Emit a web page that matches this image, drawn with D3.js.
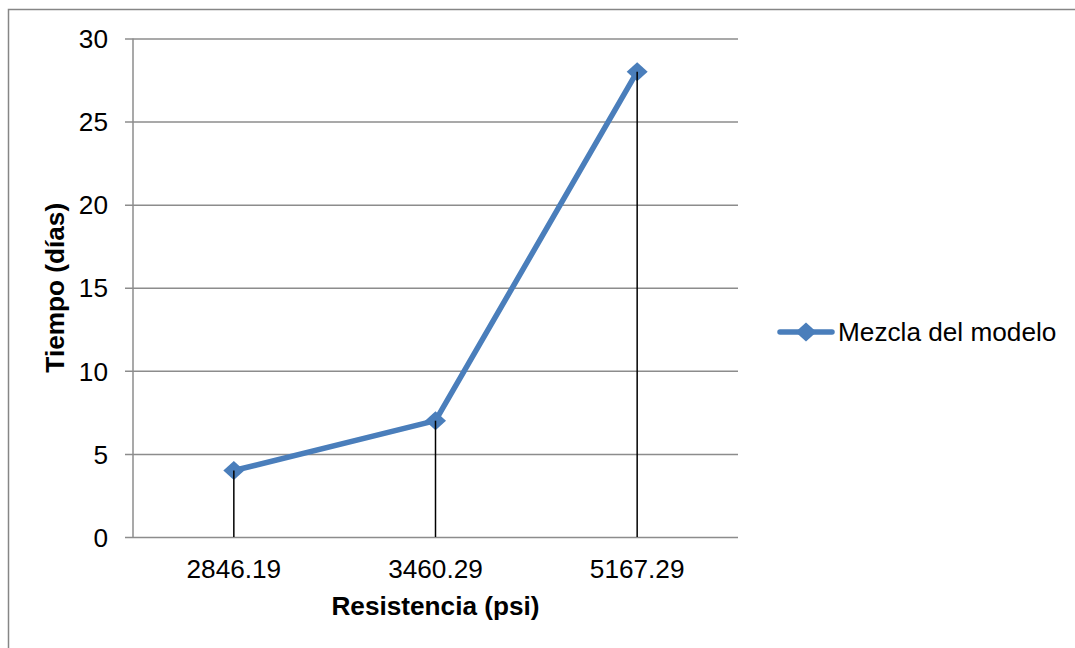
<!DOCTYPE html>
<html><head><meta charset="utf-8">
<script src="https://cdn.jsdelivr.net/npm/d3@7"></script>
<style>body{margin:0;background:#fff;}svg{display:block;font-family:Arial,"Liberation Sans",sans-serif;}</style>
</head><body>
<svg id="c" width="1075" height="648"></svg>
<script>
const categories = ["2846.19", "3460.29", "5167.29"];
const values = [4, 7, 28];
const yTicks = [0, 5, 10, 15, 20, 25, 30];
const seriesName = "Mezcla del modelo";
const xTitle = "Resistencia (psi)";
const yTitle = "Tiempo (días)";

(function () {
const svg = d3.select("#c");
const blue = "#4A7EBB";
const FF = "Arial, 'Liberation Sans', sans-serif";
const FS = 26.2;
// outer border
svg.append("rect").attr("x", 8.5).attr("y", 9.5).attr("width", 1080).attr("height", 660)
  .attr("fill", "none").attr("stroke", "#868686").attr("stroke-width", 1.5);

const pl = 133, pr = 738, pt = 38.5, pb = 537;
const x = d3.scaleBand().domain(categories).range([pl, pr]);
const y = d3.scaleLinear().domain([0, 30]).range([pb, pt]);

// gridlines with tick marks
const yAxis = d3.axisLeft(y).tickValues(yTicks).tickSize(0).tickFormat(d => d);
const gy = svg.append("g").call(yAxis);
gy.select(".domain").remove();
gy.selectAll(".tick line").attr("stroke", "#8c8c8c").attr("stroke-width", 1.5).attr("x1", pl - 8).attr("x2", pr);
gy.selectAll(".tick text").attr("x", 108).attr("text-anchor", "end").attr("font-size", FS).attr("fill", "#000")
  .attr("font-family", FF).attr("dy", "0.35em");

// y axis line
svg.append("line").attr("x1", pl).attr("x2", pl).attr("y1", pt).attr("y2", pb)
  .attr("stroke", "#8c8c8c").attr("stroke-width", 1.5);

// x labels
const xAxis = d3.axisBottom(x).tickSize(0);
const gx = svg.append("g").attr("transform", `translate(0,${pb})`).call(xAxis);
gx.select(".domain").remove();
gx.selectAll(".tick text").attr("y", 41).attr("dy", 0).attr("font-size", FS).attr("fill", "#000").attr("font-family", FF);

const cx = d => x(d) + x.bandwidth() / 2;
const data = categories.map((c, i) => ({c, v: values[i]}));

// line
svg.append("path").datum(data)
  .attr("d", d3.line().x(d => cx(d.c)).y(d => y(d.v)))
  .attr("fill", "none").attr("stroke", blue).attr("stroke-width", 5.5).attr("stroke-linejoin", "round");

// markers
const diamond = (px, py) => `M${px},${py - 9.5}L${px + 10.5},${py}L${px},${py + 9.5}L${px - 10.5},${py}Z`;
svg.selectAll(".m").data(data).enter().append("path")
  .attr("d", d => diamond(cx(d.c), y(d.v))).attr("fill", blue);

// drop lines
svg.selectAll(".drop").data(data).enter().append("line")
  .attr("x1", d => cx(d.c)).attr("x2", d => cx(d.c))
  .attr("y1", d => y(d.v)).attr("y2", pb)
  .attr("stroke", "#000").attr("stroke-width", 1.5);

// axis titles
svg.append("text").attr("x", (pl + pr) / 2).attr("y", 615).attr("text-anchor", "middle")
  .attr("font-size", FS).attr("font-weight", "bold").attr("font-family", FF).text(xTitle);
svg.append("text").attr("transform", `translate(64,${(pt + pb) / 2}) rotate(-90)`).attr("text-anchor", "middle")
  .attr("font-size", FS).attr("font-weight", "bold").attr("font-family", FF).text(yTitle);

// legend
const ly = 332;
svg.append("line").attr("x1", 780).attr("x2", 832).attr("y1", ly).attr("y2", ly)
  .attr("stroke", blue).attr("stroke-width", 5.5).attr("stroke-linecap", "round");
svg.append("path").attr("d", diamond(806, ly)).attr("fill", blue);
svg.append("text").attr("x", 838).attr("y", ly).attr("dy", "0.35em").attr("font-size", FS).attr("font-family", FF).text(seriesName);
})();
</script>
</body></html>
